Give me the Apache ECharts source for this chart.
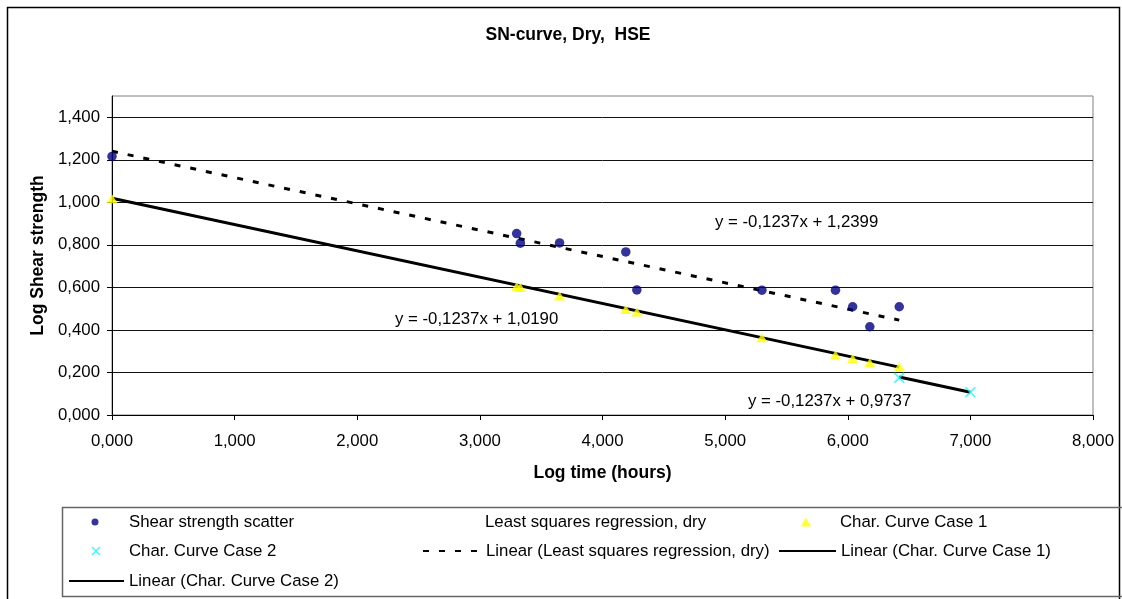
<!DOCTYPE html>
<html>
<head>
<meta charset="utf-8">
<script src="https://cdn.jsdelivr.net/npm/echarts@6/dist/echarts.min.js"></script>
<style>
html,body{margin:0;padding:0;background:#fff;}
#c{width:1122px;height:599px;}
</style>
</head>
<body>
<div id="c"></div>
<script>
// ---- data ----
const scatterX = [0, 3.30, 3.33, 3.65, 4.19, 4.28, 5.30, 5.90, 6.04, 6.18, 6.42];
const scatterY = [1.216, 0.853, 0.808, 0.809, 0.767, 0.588, 0.587, 0.587, 0.509, 0.415, 0.509];
const case1X = [0, 3.30, 3.33, 3.65, 4.19, 4.28, 5.30, 5.90, 6.04, 6.18, 6.42];
const case1Y = [1.017, 0.604, 0.600, 0.560, 0.496, 0.484, 0.363, 0.282, 0.266, 0.246, 0.227];
const case2X = [6.42, 7.00];
const case2Y = [0.175, 0.107];
const trendLsrX = [0, 6.42];
const trendLsrY = [1.240, 0.446];
const trendCase1X = [0, 6.42];
const trendCase1Y = [1.019, 0.225];
const trendCase2X = [6.42, 7.00];
const trendCase2Y = [0.179, 0.107];
const xTicks = [0, 1, 2, 3, 4, 5, 6, 7, 8];
const yTicks = [0, 0.2, 0.4, 0.6, 0.8, 1.0, 1.2, 1.4];
const equations = ['y = -0,1237x + 1,2399', 'y = -0,1237x + 1,0190', 'y = -0,1237x + 0,9737'];
const seriesNames = ['Shear strength scatter', 'Least squares regression, dry', 'Char. Curve Case 1',
  'Char. Curve Case 2', 'Linear (Least squares regression, dry)', 'Linear (Char. Curve Case 1)',
  'Linear (Char. Curve Case 2)'];
const titleText = 'SN-curve, Dry,  HSE';
const xName = 'Log time (hours)';
const yName = 'Log Shear strength';

const pair = (xs, ys) => xs.map((x, i) => [x, ys[i]]);
const fmt = v => v.toFixed(3).replace('.', ',');
const FONT = 'Liberation Sans, Arial, sans-serif';
const XPATH = 'path://M0,1L1,0L5,4L9,0L10,1L6,5L10,9L9,10L5,6L1,10L0,9L4,5Z';

const chart = echarts.init(document.getElementById('c'), null, {renderer: 'canvas'});

// marker legend: small icon, text pushed right by padding
function legMarker(name, left, rowY, w, h, textPad) {
  return {
    data: [name], left: left, top: rowY - 10, padding: 0,
    itemWidth: w, itemHeight: h, itemGap: 0, selectedMode: false,
    textStyle: {fontFamily: FONT, fontSize: 16.8, color: '#000', lineHeight: 20, padding: [0, 0, 0, textPad]}
  };
}
// line legend: line icon with hidden symbol
function legLine(name, left, rowY, w, icon) {
  const o = {
    data: [icon ? {name: name, icon: icon} : name], left: left, top: rowY - 10, padding: 0,
    itemWidth: w, itemHeight: 14, itemGap: 0, selectedMode: false,
    itemStyle: {color: 'rgba(0,0,0,0)', borderColor: 'rgba(0,0,0,0)', borderWidth: 0},
    textStyle: {fontFamily: FONT, fontSize: 16.8, color: '#000', lineHeight: 20, padding: 0}
  };
  return o;
}
const r1 = 522, r2 = 551, r3 = 581;

chart.setOption({
  backgroundColor: '#fff',
  animation: false,
  title: {
    text: titleText, left: 563, top: 21, textAlign: 'center',
    textStyle: {fontFamily: FONT, fontSize: 17.5, fontWeight: 'bold', color: '#000'}
  },
  grid: {left: 112, right: 29, top: 96, bottom: 184, show: true, borderColor: '#808080', borderWidth: 1},
  xAxis: {
    type: 'value', min: 0, max: 8, interval: 1,
    name: xName, nameLocation: 'middle', nameGap: 49,
    nameTextStyle: {fontFamily: FONT, fontSize: 17.5, fontWeight: 'bold', color: '#000'},
    axisLine: {show: true, lineStyle: {color: '#000', width: 1}},
    axisTick: {show: true, length: 5, lineStyle: {color: '#000'}, customValues: xTicks},
    axisLabel: {customValues: xTicks, formatter: fmt, margin: 18, fontFamily: FONT, fontSize: 16.8, color: '#000'},
    splitLine: {show: false}
  },
  yAxis: {
    type: 'value', min: 0, max: 1.5, interval: 0.2,
    name: yName, nameLocation: 'middle', nameGap: 61,
    nameTextStyle: {fontFamily: FONT, fontSize: 17.5, fontWeight: 'bold', color: '#000'},
    axisLine: {show: true, onZero: false, lineStyle: {color: '#000', width: 1}},
    axisTick: {show: true, length: 5, lineStyle: {color: '#000'}, customValues: yTicks},
    axisLabel: {customValues: yTicks, formatter: fmt, margin: 12, fontFamily: FONT, fontSize: 16.8, color: '#000'},
    splitLine: {show: true, lineStyle: {color: '#111', width: 1}}
  },
  legend: [
    legMarker(seriesNames[0], 91.5, r1, 7, 7, 25.5),
    legLine(seriesNames[1], 422, r1, 58, 'none'),
    legMarker(seriesNames[2], 801, r1, 10, 9, 24),
    legMarker(seriesNames[3], 91.5, r2, 9, 9, 23.5),
    legLine(seriesNames[4], 422, r2, 58),
    legLine(seriesNames[5], 778, r2, 57),
    legLine(seriesNames[6], 68, r3, 55)
  ],
  graphic: [
    {type: 'rect', shape: {x: 7.5, y: 7.5, width: 1112, height: 600}, style: {fill: 'none', stroke: '#000', lineWidth: 1.5}, silent: true, z: 100},
    {type: 'rect', shape: {x: 62.5, y: 507.5, width: 1080, height: 89}, style: {fill: 'none', stroke: '#666', lineWidth: 1.5}, silent: true, z: 100},
    {type: 'text', left: 715, top: 214, style: {text: equations[0], font: '16.8px ' + FONT, fill: '#000'}, silent: true},
    {type: 'text', left: 395, top: 311, style: {text: equations[1], font: '16.8px ' + FONT, fill: '#000'}, silent: true},
    {type: 'text', left: 748, top: 393, style: {text: equations[2], font: '16.8px ' + FONT, fill: '#000'}, silent: true}
  ],
  series: [
    {name: seriesNames[0], type: 'scatter', symbol: 'circle', symbolSize: 9.5, data: pair(scatterX, scatterY),
     itemStyle: {color: '#000080'}, z: 5},
    {name: seriesNames[1], type: 'scatter', symbol: 'none', symbolSize: 0, data: pair(scatterX, scatterY),
     itemStyle: {color: 'rgba(0,0,0,0)'}},
    {name: seriesNames[2], type: 'scatter', symbol: 'triangle', symbolSize: [11, 9], data: pair(case1X, case1Y),
     itemStyle: {color: '#FFFF00'}, z: 4},
    {name: seriesNames[3], type: 'scatter', symbol: XPATH, symbolSize: 11, data: pair(case2X, case2Y),
     itemStyle: {color: '#00FFFF'}, z: 4},
    {name: seriesNames[4], type: 'line', data: pair(trendLsrX, trendLsrY), showSymbol: false, symbol: 'none',
     lineStyle: {color: '#000', width: 3, type: [6, 10]}, itemStyle: {color: '#000'}, z: 3},
    {name: seriesNames[5], type: 'line', data: pair(trendCase1X, trendCase1Y), showSymbol: false, symbol: 'none',
     lineStyle: {color: '#000', width: 3}, itemStyle: {color: '#000'}, z: 3},
    {name: seriesNames[6], type: 'line', data: pair(trendCase2X, trendCase2Y), showSymbol: false, symbol: 'none',
     lineStyle: {color: '#000', width: 3}, itemStyle: {color: '#000'}, z: 3}
  ]
});
</script>
</body>
</html>
